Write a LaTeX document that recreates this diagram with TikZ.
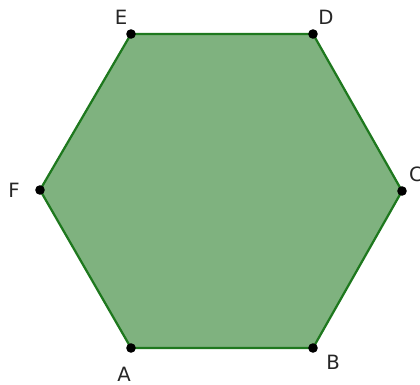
\documentclass[tikz,border=0pt]{standalone}
\usepackage{fontspec}
\setmainfont{DejaVu Sans}
\usetikzlibrary{positioning}
\definecolor{hexfill}{RGB}{127,178,127}
\definecolor{hexline}{RGB}{30,120,30}
\tikzset{
  vdot/.style={circle, fill=black, inner sep=0pt, minimum size=2.4mm},
  vlab/.style={font=\fontsize{14}{16}\selectfont, text=black!85, inner sep=0pt},
  hexside/.style={draw=hexline, line width=1.6pt, fill=hexfill, line join=round},
}

\begin{document}
\begin{tikzpicture}[x=0.025cm,y=-0.025cm]
\useasboundingbox (0,0) rectangle (420,385);
\coordinate (A) at (131,348);
\coordinate (B) at (313,348);
\coordinate (C) at (402,191);
\coordinate (D) at (313,34);
\coordinate (E) at (131,34);
\coordinate (F) at (40,190);
\draw[hexside] (A) -- (B) -- (C) -- (D) -- (E) -- (F) -- cycle;
\foreach \v in {A,B,C,D,E,F}
  \node[vdot] (dot\v) at (\v) {};
\node[vlab] (labA) at (124,374) {A};
\node[vlab] (labB) at (333,362) {B};
\node[vlab] (labC) at (416,174) {C};
\node[vlab] (labD) at (326,17) {D};
\node[vlab] (labE) at (121,17) {E};
\node[vlab] (labF) at (14,190) {F};
\end{tikzpicture}
\end{document}
